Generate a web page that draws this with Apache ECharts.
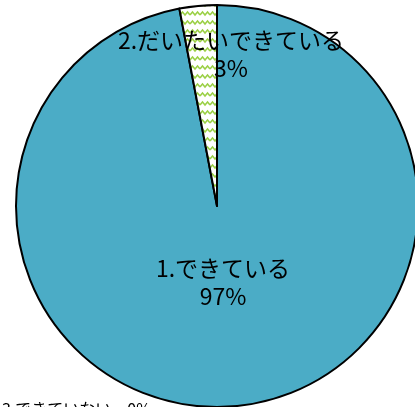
<!DOCTYPE html>
<html><head><meta charset="utf-8">
<script src="https://cdn.jsdelivr.net/npm/echarts@6/dist/echarts.min.js"></script>
<style>html,body{margin:0;padding:0;background:#fff}#c{width:415px;height:407px}</style>
</head><body><div id="c"></div>
<script>
const categories = ['1.できている', '2.だいたいできている'];
const values = [97, 3];
const footnote = '3.できていない　0%';

function zigzag() {
  const c = document.createElement('canvas');
  c.width = 10; c.height = 9;
  const g = c.getContext('2d');
  g.fillStyle = '#fff'; g.fillRect(0, 0, 10, 9);
  g.strokeStyle = '#9bd045'; g.lineWidth = 1.5;
  g.beginPath();
  g.moveTo(0, 6); g.lineTo(2.5, 3); g.lineTo(5, 6); g.lineTo(7.5, 3); g.lineTo(10, 6);
  g.stroke();
  return c;
}

const chart = echarts.init(document.getElementById('c'));
const labelPos = [[223, 282], [231, 54]];
chart.setOption({
  animation: false,
  series: [{
    type: 'pie',
    center: [217, 206],
    radius: 201,
    startAngle: 90,
    clockwise: true,
    label: {
      position: 'inside',
      formatter: p => p.name + '\n' + p.value + '%',
      color: '#000',
      fontSize: 23,
      lineHeight: 28,
      fontFamily: 'Noto Sans CJK JP',
      align: 'center'
    },
    labelLayout: p => ({ x: labelPos[p.dataIndex][0], y: labelPos[p.dataIndex][1], align: 'center', verticalAlign: 'middle' }),
    itemStyle: { borderColor: '#000', borderWidth: 2 },
    data: categories.map((n, i) => ({
      name: n, value: values[i],
      itemStyle: { color: i === 0 ? '#4bacc6' : { image: zigzag(), repeat: 'repeat' } }
    }))
  }],
  graphic: [{
    type: 'text', left: 2, top: 401,
    style: { text: footnote, fontSize: 16, fontFamily: 'Noto Sans CJK JP', fill: '#000' }
  }]
});
</script></body></html>
